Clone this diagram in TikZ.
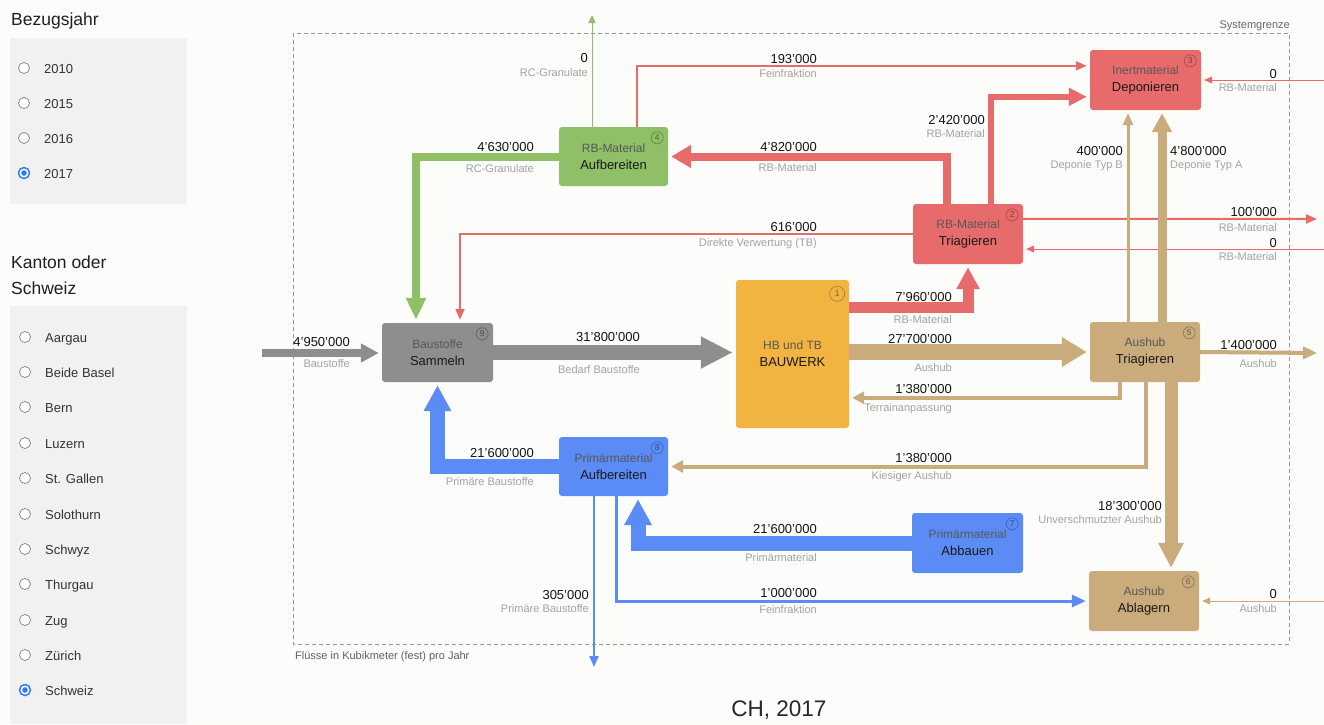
\documentclass[tikz,border=0pt]{standalone}
\usepackage{fontspec}
\setmainfont{Liberation Sans}
\usetikzlibrary{arrows.meta,calc}

% palette
\definecolor{pagebg}{HTML}{FCFCFB}
\definecolor{panelbg}{HTML}{F1F1F1}
\definecolor{cgray}{HTML}{8E8E8E}
\definecolor{cgreen}{HTML}{8FBF67}
\definecolor{cred}{HTML}{E86B6B}
\definecolor{ctan}{HTML}{C9AB7C}
\definecolor{cblue}{HTML}{5B8CF5}
\definecolor{corange}{HTML}{F2B440}
\definecolor{radioblue}{HTML}{2F7CF0}

\newcommand\pxfont[1]{\fontsize{#1}{#1}\selectfont}
% two-line process caption: light upper line, darker lower line
\newcommand\proctop[1]{{\fontsize{12}{17}\selectfont\color{black!66}#1}}
% value above, description below, right-aligned at x
\newcommand\flowlab[6]{%
  \node[valtxt, anchor=base east] (#1v) at (#2,#3+4.7) {#5};
  \node[desctxt, anchor=base east] (#1d) at (#2,#4+4) {#6};}
\newcommand\flowlabW[6]{%
  \node[valtxt, anchor=base west] (#1v) at (#2,#3+4.7) {#5};
  \node[desctxt, anchor=base west] (#1d) at (#2,#4+4) {#6};}

\tikzset{
  proc/.style={rounded corners=3pt, inner sep=0pt, align=center,
    font=\fontsize{13}{17}\selectfont, text=black!90},
  badge/.style={circle, draw=black, draw opacity=0.28, text opacity=0.45,
    line width=0.7pt, inner sep=0pt, minimum size=12pt, font=\pxfont{8.5}},
  flow/.style n args={4}{draw=#1, line width=#2pt, line join=miter,
    -{Triangle[width=#3pt,length=#4pt]}, shorten >=3pt},
  valtxt/.style={inner sep=0pt, font=\pxfont{13}, text=black!92},
  desctxt/.style={inner sep=0pt, font=\pxfont{11}, text=black!36},
  radiooff/.style={circle, draw=black!50, fill=white, line width=0.7pt,
    minimum size=11pt, inner sep=0pt},
  radioon/.style={circle, draw=radioblue, fill=white, line width=1.5pt,
    minimum size=11pt, inner sep=0pt},
  paneltxt/.style={inner sep=0pt, font=\pxfont{13}, text=black!80, anchor=base west},
  headtxt/.style={inner sep=0pt, font=\pxfont{17.5}, text=black!88, anchor=base west},
  boundary/.style={draw=black!40, line width=0.9pt, dash pattern=on 4pt off 3pt},
}

\begin{document}
\begin{tikzpicture}[x=1pt, y=-1pt]
\useasboundingbox (0,0) rectangle (1324,724);
\fill[pagebg] (0,0) rectangle (1324,724);

% ---------- side panel: reference year ----------
\node[headtxt] (hyear) at (11,25) {Bezugsjahr};
\fill[panelbg] (10,38) rectangle (187,204);
\foreach \yr/\yy [count=\i] in {2010/68,2015/103,2016/138} {
  \node[radiooff] (ry\i) at (24,\yy) {};
  \node[paneltxt] (ty\i) at (44,\yy+5.5) {\yr};
}
\node[radioon] (ry4) at (24,173) {};
\fill[radioblue] (ry4.center) circle (2.8);
\node[paneltxt] (ty4) at (44,178.5) {2017};

% ---------- side panel: canton ----------
\node[headtxt] (hkt1) at (11,268) {Kanton oder};
\node[headtxt] (hkt2) at (11,294) {Schweiz};
\fill[panelbg] (10,306) rectangle (187,724);
\foreach \kt/\yy [count=\i] in {Aargau/337,Beide Basel/372,Bern/407,Luzern/443,
    St. Gallen/478,Solothurn/514,Schwyz/549,Thurgau/584,Zug/620,Zürich/655} {
  \node[radiooff] (rk\i) at (25,\yy) {};
  \node[paneltxt] (tk\i) at (45,\yy+5) {\kt};
}
\node[radioon] (rk11) at (25,690) {};
\fill[radioblue] (rk11.center) circle (2.8);
\node[paneltxt] (tk11) at (45,695) {Schweiz};

% ---------- system boundary ----------
\draw[boundary] (293,33) rectangle (1289,644);
\node[inner sep=0pt, anchor=base east, font=\pxfont{11}, text=black!60] (sysl) at (1290,28) {Systemgrenze};
\node[inner sep=0pt, anchor=base west, font=\pxfont{11}, text=black!62] (unitl) at (295,659) {Flüsse in Kubikmeter (fest) pro Jahr};

% ---------- processes ----------
\node[proc, fill=cgray, minimum width=111pt, minimum height=59pt] (n9) at (437.5,352.5) {\proctop{Baustoffe}\\Sammeln};
\node[proc, fill=corange, minimum width=113pt, minimum height=148pt] (n1) at (792.5,354) {\proctop{HB und TB}\\BAUWERK};
\node[proc, fill=cgreen, minimum width=109pt, minimum height=59pt] (n4) at (613.5,156.5) {\proctop{RB-Material}\\Aufbereiten};
\node[proc, fill=cred, minimum width=110pt, minimum height=60pt] (n2) at (968,234) {\proctop{RB-Material}\\Triagieren};
\node[proc, fill=cred, minimum width=111pt, minimum height=60pt] (n3) at (1145.5,80) {\proctop{Inertmaterial}\\Deponieren};
\node[proc, fill=ctan, minimum width=110pt, minimum height=60pt] (n5) at (1145,352) {\proctop{Aushub}\\Triagieren};
\node[proc, fill=cblue, minimum width=109pt, minimum height=59pt] (n8) at (613.5,466.5) {\proctop{Primärmaterial}\\Aufbereiten};
\node[proc, fill=cblue, minimum width=111pt, minimum height=60pt] (n7) at (967.5,543) {\proctop{Primärmaterial}\\Abbauen};
\node[proc, fill=ctan, minimum width=110pt, minimum height=60pt] (n6) at (1144,601) {\proctop{Aushub}\\Ablagern};

% process numbers
\node[badge] (b9) at ($(n9.north east)+(-11,11)$) {9};
\node[badge, minimum size=15pt] (b1) at ($(n1.north east)+(-12,14)$) {1};
\node[badge] (b4) at ($(n4.north east)+(-11,11)$) {4};
\node[badge] (b2) at ($(n2.north east)+(-11,11)$) {2};
\node[badge] (b3) at ($(n3.north east)+(-11,11)$) {3};
\node[badge] (b5) at ($(n5.north east)+(-11,11)$) {5};
\node[badge] (b8) at ($(n8.north east)+(-11,11)$) {8};
\node[badge] (b7) at ($(n7.north east)+(-11,11)$) {7};
\node[badge] (b6) at ($(n6.north east)+(-11,11)$) {6};

% free ends of the flows crossing the boundary
\coordinate (inS)   at (262,353);
\coordinate (gTop)  at (592,12);
\coordinate (inRa)  at (1324,80);
\coordinate (outRb) at (1320,219);
\coordinate (inRc)  at (1324,249);
\coordinate (outT)  at (1320,353);
\coordinate (inT)   at (1324,601);
\coordinate (outB)  at (594,670);

% ---------- grey flows ----------
\draw[flow={cgray}{8}{18}{18}] (inS) -- (inS -| n9.west);
\draw[flow={cgray}{15}{30}{32}] (n9.east) -- (n9.east -| n1.west);

% ---------- green flows ----------
\draw[flow={cgreen}{8}{19}{22}] (n4.west) -| ($(n9.north)+(-21.5,0)$);
\draw[flow={cgreen}{1}{7}{8}] ($(n4.north)+(-21.5,0)$) -- (gTop);

% ---------- red flows ----------
\draw[flow={cred}{11}{22}{22}] ($(n1.north east)+(0,28)$) -| (n2.south);
\draw[flow={cred}{8}{22}{20}] ($(n2.north)+(-21,0)$) |- (n4.east);
\draw[flow={cred}{6}{17}{18}] ($(n2.north)+(23,0)$) |- ($(n3.north west)+(0,47)$);
\draw[flow={cred}{2}{9}{11}] ($(n4.north)+(23,0)$) |- ($(n3.north west)+(0,16)$);
\draw[flow={cred}{2}{9}{11}] (n2.west) -| ($(n9.north)+(22.5,0)$);
\draw[flow={cred}{2}{9}{11}] ($(n2.north east)+(0,15)$) -- (outRb);
\draw[flow={cred}{1}{7}{8}] (inRc) -- (inRc -| n2.east);
\draw[flow={cred}{1}{7}{8}] (inRa) -- (n3.east);

% ---------- excavation flows ----------
\draw[flow={ctan}{16}{28}{25}] (n1.east |- n5.west) -- (n5.west);
\draw[flow={ctan}{3}{10}{12}] ($(n5.north)+(-17,0)$) -- ($(n3.south)+(-17.5,0)$);
\draw[flow={ctan}{9}{19}{19}] ($(n5.north)+(17,0)$) -- ($(n3.south)+(16.5,0)$);
\draw[flow={ctan}{4}{12}{14}] (n5.east) -- (outT);
\draw[flow={ctan}{4}{12}{12}] ($(n5.south)+(-25.5,0)$) |- ($(n1.north east)+(0,118)$);
\draw[flow={ctan}{4}{12}{12}] ($(n5.south)+(1,0)$) |- (n8.east);
\draw[flow={ctan}{13}{24}{25}] ($(n5.south)+(26,0)$) -- ($(n6.north)+(27,0)$);
\draw[flow={ctan}{1}{7}{8}] (inT) -- (n6.east);

% ---------- primary material flows ----------
\draw[flow={cblue}{15}{26}{26}] (n8.west) -| (n9.south);
\draw[flow={cblue}{15}{26}{26}] (n7.west) -| ($(n8.south)+(24.5,0)$);
\draw[flow={cblue}{2}{9}{11}] ($(n8.south)+(-19.5,0)$) -- (outB);
\draw[flow={cblue}{3}{12}{14}] ($(n8.south)+(2.5,0)$) |- (n6.west);

% ---------- flow labels ----------
\flowlab{f1}{588}{58}{72}{0}{RC-Granulate}
\flowlab{f2}{534}{147}{168}{4'630'000}{RC-Granulate}
\flowlab{f3}{817}{59}{73}{193'000}{Feinfraktion}
\flowlab{f4}{817}{147}{167}{4'820'000}{RB-Material}
\flowlab{f5}{985}{120}{133}{2'420'000}{RB-Material}
\flowlab{f6}{817}{227}{242}{616'000}{Direkte Verwertung (TB)}
\flowlab{f7}{1277}{74}{87}{0}{RB-Material}
\flowlab{f8}{1277}{212}{227}{100'000}{RB-Material}
\flowlab{f9}{1277}{243}{256}{0}{RB-Material}
\flowlab{f10}{1123}{151}{164}{400'000}{Deponie Typ B}
\flowlabW{f11}{1170}{151}{164}{4'800'000}{Deponie Typ A}
\flowlab{f12}{350}{342}{363}{4'950'000}{Baustoffe}
\flowlab{f13}{640}{337}{369}{31'800'000}{Bedarf Baustoffe}
\flowlab{f14}{952}{297}{319}{7'960'000}{RB-Material}
\flowlab{f15}{952}{339}{367}{27'700'000}{Aushub}
\flowlab{f16}{952}{389}{407}{1'380'000}{Terrainanpassung}
\flowlab{f17}{1277}{345}{363}{1'400'000}{Aushub}
\flowlab{f18}{952}{458}{475}{1'380'000}{Kiesiger Aushub}
\flowlab{f19}{534}{453}{481}{21'600'000}{Primäre Baustoffe}
\flowlab{f20}{817}{529}{557}{21'600'000}{Primärmaterial}
\flowlab{f21}{1162}{506}{519}{18'300'000}{Unverschmutzter Aushub}
\flowlab{f22}{589}{595}{608}{305'000}{Primäre Baustoffe}
\flowlab{f23}{817}{593}{609}{1'000'000}{Feinfraktion}
\flowlab{f24}{1277}{594}{608}{0}{Aushub}

% ---------- caption ----------
\node[inner sep=0pt, font=\pxfont{22.5}, text=black!85] (title) at (779,710) {CH, 2017};
\end{tikzpicture}
\end{document}
